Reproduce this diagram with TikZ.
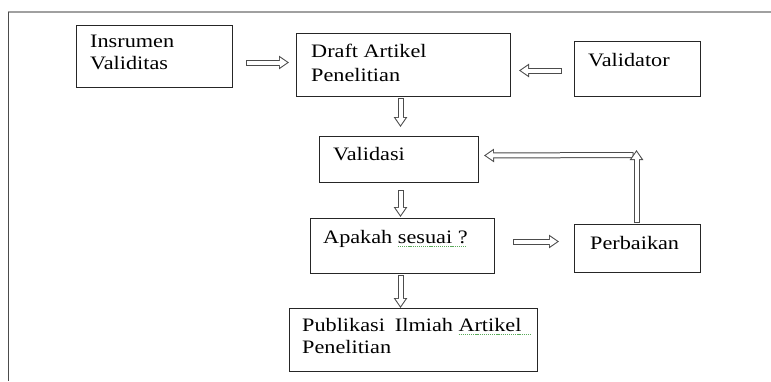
\documentclass[tikz,border=0pt]{standalone}
\usepackage{fontspec}
\setmainfont{Liberation Serif}[FakeStretch=1.17]
\usetikzlibrary{calc,arrows.meta}
\definecolor{gramgreen}{RGB}{90,170,90}
\definecolor{framegray}{RGB}{160,160,160}
\newlength\grmw
\newcommand\grm[1]{\settowidth{\grmw}{#1}\rlap{\textcolor{gramgreen}{\raisebox{-0.45ex}{\leaders\hbox to 2.1pt{\rule{1.2pt}{0.9pt}\hss}\hskip\grmw}}}#1}
\newcommand\blkarrow[2]{\draw[blkO] (#1) -- (#2); \draw[blkI] (#1) -- (#2);}
\begin{document}
\begin{tikzpicture}[x=1pt,y=-1pt,
  boxx/.style={draw=black!85, line width=1pt, anchor=north west, inner sep=0pt},
  txt/.style={anchor=north west, inner sep=0pt, align=left, font=\fontsize{19}{22}\selectfont, text=black},
  blkO/.style={draw=black!70, line width=6pt, -{Triangle[length=10pt,width=13pt]}},
  blkI/.style={draw=white, line width=4pt, shorten <=1pt, shorten >=1.83pt, -{Triangle[length=7.2pt,width=9.3pt]}}]
\useasboundingbox (0,0) rectangle (771,381);
% frame
\draw[framegray, line width=1.8pt] (8,12) -- (771,12);
\draw[black!70, line width=1pt] (8,12) -- (8,381);
% boxes
\node[boxx, minimum width=156, minimum height=62] (ins) at (76,25) {};
\node[boxx, minimum width=214, minimum height=63] (draft) at (296,33) {};
\node[boxx, minimum width=126, minimum height=55] (valr) at (574,41) {};
\node[boxx, minimum width=159, minimum height=46] (vali) at (319,136) {};
\node[boxx, minimum width=184, minimum height=55] (apa) at (310,218) {};
\node[boxx, minimum width=126, minimum height=48] (perb) at (574,224) {};
\node[boxx, minimum width=248, minimum height=63] (pub) at (289,308) {};
% texts
\node[txt] (insT) at ($(ins.north west)+(14,10)$) {Insrumen\\Validitas};
\node[txt] (draftT) at ($(draft.north west)+(15,11)$) {Draft Artikel\\[2pt]Penelitian};
\node[txt] (valrT) at ($(valr.north west)+(14,12)$) {Validator};
\node[txt] (valiT) at ($(vali.north west)+(14,11)$) {Validasi};
\node[txt] (apaT) at ($(apa.north west)+(13,12)$) {Apakah \grm{sesuai ?}};
\node[txt] (perbT) at ($(perb.north west)+(16,12)$) {Perbaikan};
\node[txt] (pubT) at ($(pub.north west)+(13,10)$) {Publikasi\hspace{10pt}Ilmiah \grm{Artikel\ \ }\\Penelitian};
% arrow end points
\coordinate (a1s) at ($(ins.east)+(13,6)$);
\coordinate (a1e) at ($(draft.west)+(-7,-2.5)$);
\coordinate (a2s) at ($(valr.west)+(-12,1.5)$);
\coordinate (a2e) at ($(draft.east)+(8,5.5)$);
\coordinate (a3s) at ($(draft.south)+(-3,1)$);
\coordinate (a3e) at ($(a3s |- vali.north)+(0,-9)$);
\coordinate (a4s) at ($(vali.south)+(1.5,7)$);
\coordinate (a4e) at ($(a4s |- apa.north)+(0,-1)$);
\coordinate (a5s) at ($(apa.east)+(18,-4.5)$);
\coordinate (a5e) at ($(perb.west)+(-15,-7)$);
\coordinate (a6s) at ($(perb.north)+(-1,-1)$);
\coordinate (a6e) at ($(perb.north)+(-1,-74)$);
\coordinate (a7s) at ($(perb.north)+(-4,-69)$);
\coordinate (a7e) at ($(vali.east)+(5,-4)$);
\coordinate (a8s) at ($(apa.south)+(-2,1)$);
\coordinate (a8e) at ($(a8s |- pub.north)+(0,0)$);
% arrows
\blkarrow{a1s}{a1e}
\blkarrow{a2s}{a2e}
\blkarrow{a3s}{a3e}
\blkarrow{a4s}{a4e}
\blkarrow{a5s}{a5e}
\blkarrow{a7s}{a7e}
\blkarrow{a6s}{a6e}
\blkarrow{a8s}{a8e}
\end{tikzpicture}
\end{document}
